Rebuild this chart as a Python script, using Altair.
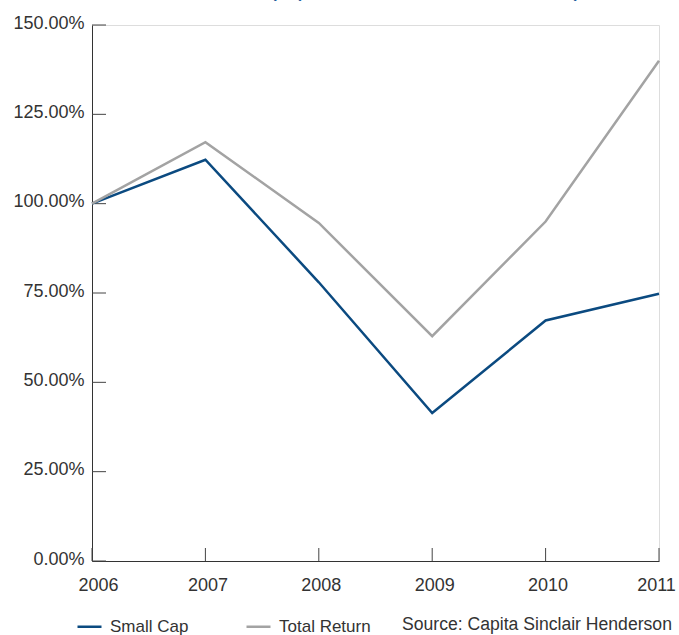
import altair as alt
import pandas as pd

years = [2006, 2007, 2008, 2009, 2010, 2011]
small_cap = [100.0, 112.3, 78.0, 41.4, 67.3, 74.8]
total_return = [100.0, 117.2, 94.6, 62.9, 95.0, 140.0]
series_names = ["Small Cap", "Total Return"]
series_colors = ["#0b4a80", "#a3a3a3"]
y_ticks = [0, 0.25, 0.5, 0.75, 1.0, 1.25, 1.5]
title_text = "Small Cap (Share Price Total Return)"
source_text = "Source: Capita Sinclair Henderson"

FONT = "Liberation Sans"
W, H = 567, 536

rows = []
for y, a, b in zip(years, small_cap, total_return):
    rows.append({"year": y, "series": series_names[0], "value": a / 100})
    rows.append({"year": y, "series": series_names[1], "value": b / 100})
df = pd.DataFrame(rows)

x_scale = alt.Scale(domain=[years[0], years[-1]], nice=False, zero=False)
y_scale = alt.Scale(domain=[0, 1.5], nice=False)

lines = alt.Chart(df).mark_line(strokeWidth=2.5).encode(
    x=alt.X("year:Q", scale=x_scale, title=None,
            axis=alt.Axis(values=years, format="d", tickSize=0, labelPadding=15,
                          labelFontSize=18, labelColor="#333", labelFont=FONT,
                          domainColor="#333", grid=False, labelFlush=False,
                          labelOffset=alt.ExprRef(expr="datum.value == 2006 ? 6 : (datum.value == 2011 ? -3 : 2)"))),
    y=alt.Y("value:Q", scale=y_scale, title=None,
            axis=alt.Axis(values=y_ticks, format=".2%", tickSize=0, labelPadding=8,
                          labelFontSize=18, labelColor="#333", labelFont=FONT,
                          domainColor="#333", grid=False, labelOffset=-2)),
    color=alt.Color("series:N", scale=alt.Scale(domain=series_names, range=series_colors),
                    legend=alt.Legend(title=None, orient="none", legendX=-16, legendY=588,
                                      direction="horizontal", symbolType="stroke",
                                      symbolSize=576, symbolStrokeWidth=2.5,
                                      labelFontSize=17, labelFont=FONT, labelColor="#333",
                                      labelOffset=7, columnPadding=52)),
)

ytick_df = pd.DataFrame({"v": y_ticks})
yticks = alt.Chart(ytick_df).mark_rule(color="#444", strokeWidth=1).encode(
    y=alt.Y("v:Q", scale=y_scale),
    x=alt.value(0), x2=alt.value(14),
)

xtick_df = pd.DataFrame({"year": years})
xticks = alt.Chart(xtick_df).mark_rule(color="#444", strokeWidth=1).encode(
    x=alt.X("year:Q", scale=x_scale),
    y=alt.value(H), y2=alt.value(H - 13),
)

src = alt.Chart(pd.DataFrame({"t": [source_text]})).mark_text(
    align="left", baseline="middle", fontSize=17.6, font=FONT, color="#333"
).encode(x=alt.value(310), y=alt.value(600), text="t:N")

ttl = alt.Chart(pd.DataFrame({"t": [title_text]})).mark_text(
    align="left", baseline="alphabetic", fontSize=25, font=FONT, color="#1f5f9e"
).encode(x=alt.value(79), y=alt.value(-29), text="t:N")

chart = alt.layer(yticks, xticks, lines, src, ttl).properties(
    width=W, height=H,
    autosize=alt.AutoSizeParams(type="none"),
    padding={"left": 92, "top": 25, "right": 20, "bottom": 74},
).configure_view(stroke=None).configure(background="white")

chart.save("out.html", embed_options={"renderer": "svg", "actions": False})
